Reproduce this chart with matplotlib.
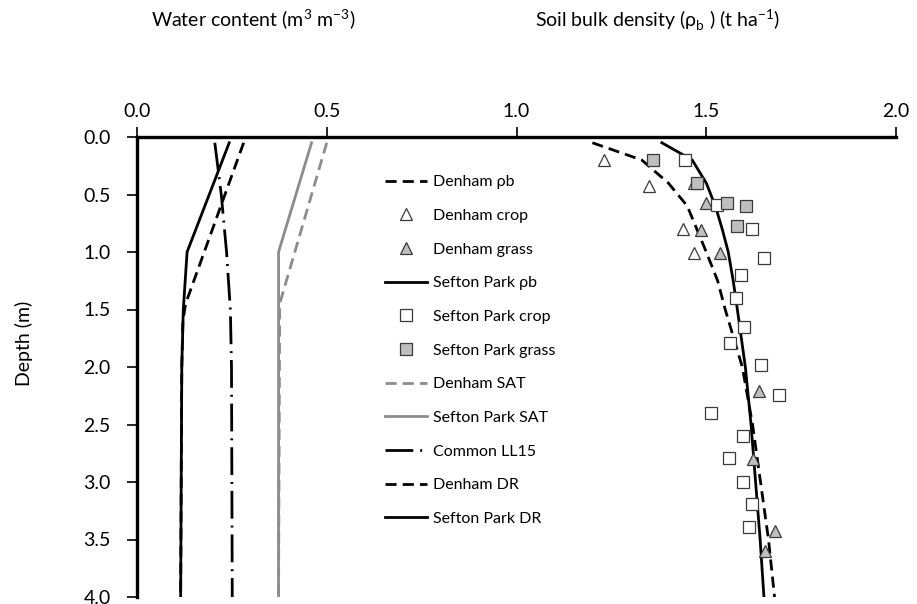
import matplotlib
matplotlib.use('Agg')
import matplotlib.pyplot as plt

plt.rcParams['font.family'] = ['Lato', 'DejaVu Sans']

# water content profiles (m3 m-3) vs depth (m)
dr_depth = [0.05, 1.0, 1.5, 2.0, 4.0]
sefton_dr = [0.243, 0.132, 0.122, 0.118, 0.115]
denham_dr_depth = [0.05, 1.45, 1.6, 2.0, 4.0]
denham_dr = [0.281, 0.128, 0.121, 0.118, 0.115]
ll15_depth = [0.05, 0.5, 1.0, 1.5, 2.0, 4.0]
common_ll15 = [0.205, 0.222, 0.236, 0.246, 0.249, 0.251]
sat_depth = [0.05, 1.0, 4.0]
sefton_sat = [0.460, 0.373, 0.373]
denham_sat_depth = [0.05, 1.45, 4.0]
denham_sat = [0.500, 0.376, 0.373]

# bulk density fits (t ha-1)
bd_depth = [0.05, 0.2, 0.4, 0.6, 0.8, 1.0, 1.25, 1.5, 2.0, 2.5, 3.0, 3.5, 4.0]
denham_pb = [1.20, 1.33, 1.40, 1.45, 1.475, 1.50, 1.53, 1.55, 1.595, 1.622, 1.643, 1.664, 1.68]
sefton_pb = [1.383, 1.463, 1.50, 1.524, 1.542, 1.558, 1.571, 1.582, 1.603, 1.618, 1.630, 1.642, 1.652]

# measured bulk density
denham_crop_bd = [1.23, 1.35, 1.467, 1.44, 1.467]
denham_crop_d = [0.20, 0.43, 0.40, 0.80, 1.01]
denham_grass_bd = [1.50, 1.487, 1.537, 1.640, 1.623, 1.682, 1.654]
denham_grass_d = [0.57, 0.81, 1.01, 2.21, 2.80, 3.43, 3.60]
sefton_crop_bd = [1.443, 1.529, 1.621, 1.653, 1.592, 1.579, 1.60, 1.563, 1.643,
                  1.691, 1.513, 1.597, 1.559, 1.596, 1.621, 1.613]
sefton_crop_d = [0.20, 0.59, 0.80, 1.05, 1.20, 1.40, 1.65, 1.79, 1.98,
                 2.24, 2.40, 2.60, 2.79, 3.00, 3.19, 3.39]
sefton_grass_bd = [1.359, 1.476, 1.555, 1.606, 1.581]
sefton_grass_d = [0.20, 0.40, 0.57, 0.60, 0.77]

fig = plt.figure(figsize=(9.17, 6.04), dpi=100)
ax = fig.add_axes([137/917, 1-597/604, (896-137)/917, (597-137)/604])

lw = 2.0
dash = (0, (4, 2.2))
dashdot = (0, (10, 2.5, 0.7, 2.5))
grey = '#8c8c8c'
edge = '#3a3a3a'
fill = '#bfbfbf'

ax.plot(denham_pb, bd_depth, color='black', lw=lw, linestyle=dash, label='Denham ρb')
ax.plot(denham_crop_bd, denham_crop_d, linestyle='none', marker='^', ms=9,
        mfc='white', mec=edge, mew=0.9, label='Denham crop', zorder=4)
ax.plot(denham_grass_bd, denham_grass_d, linestyle='none', marker='^', ms=9,
        mfc=fill, mec=edge, mew=0.9, label='Denham grass', zorder=4)
ax.plot(sefton_pb, bd_depth, color='black', lw=lw, label='Sefton Park ρb')
ax.plot(sefton_crop_bd, sefton_crop_d, linestyle='none', marker='s', ms=8,
        mfc='white', mec=edge, mew=0.9, label='Sefton Park crop', zorder=4)
ax.plot(sefton_grass_bd, sefton_grass_d, linestyle='none', marker='s', ms=8,
        mfc=fill, mec=edge, mew=0.9, label='Sefton Park grass', zorder=4)
ax.plot(denham_sat, denham_sat_depth, color=grey, lw=lw, linestyle=dash, label='Denham SAT')
ax.plot(sefton_sat, sat_depth, color=grey, lw=lw, label='Sefton Park SAT')
ax.plot(common_ll15, ll15_depth, color='black', lw=lw, linestyle=dashdot, label='Common LL15')
ax.plot(denham_dr, denham_dr_depth, color='black', lw=lw, linestyle=dash, label='Denham DR')
ax.plot(sefton_dr, dr_depth, color='black', lw=lw, label='Sefton Park DR')

ax.set_xlim(0, 2)
ax.set_ylim(4, 0)
ax.set_xticks([0, 0.5, 1.0, 1.5, 2.0])
ax.set_yticks([0, 0.5, 1, 1.5, 2, 2.5, 3, 3.5, 4])
ax.xaxis.set_major_formatter(matplotlib.ticker.FormatStrFormatter('%.1f'))
ax.yaxis.set_major_formatter(matplotlib.ticker.FormatStrFormatter('%.1f'))
ax.xaxis.tick_top()
ax.spines['bottom'].set_visible(False)
ax.spines['right'].set_visible(False)
ax.spines['top'].set_linewidth(2.4)
ax.spines['left'].set_linewidth(2.4)
ax.tick_params(axis='x', direction='out', length=7, width=1.2, labelsize=14, pad=5.5)
ax.tick_params(axis='y', direction='out', length=7, width=1.2, labelsize=14, pad=12)
ax.patch.set_alpha(0)

ax.legend(loc='upper left', bbox_to_anchor=(385/917, 1-175/604), bbox_transform=fig.transFigure,
          frameon=False, fontsize=11.5, borderpad=0, borderaxespad=0, handlelength=2.6,
          handletextpad=0.4, labelspacing=1.22, numpoints=1)

fig.text(151/917, 1-20/604, 'Water content (m$^\\mathregular{3}$ m$^\\mathregular{-3}$)',
         ha='left', va='center', fontsize=14)
fig.text(535/917, 1-20/604, 'Soil bulk density (ρ$_\\mathregular{b}$ ) (t ha$^\\mathregular{-1}$)',
         ha='left', va='center', fontsize=14)
fig.text(24/917, 1-343/604, 'Depth (m)', rotation=90, ha='center', va='center', fontsize=14)

fig.savefig('out.png', dpi=100)
